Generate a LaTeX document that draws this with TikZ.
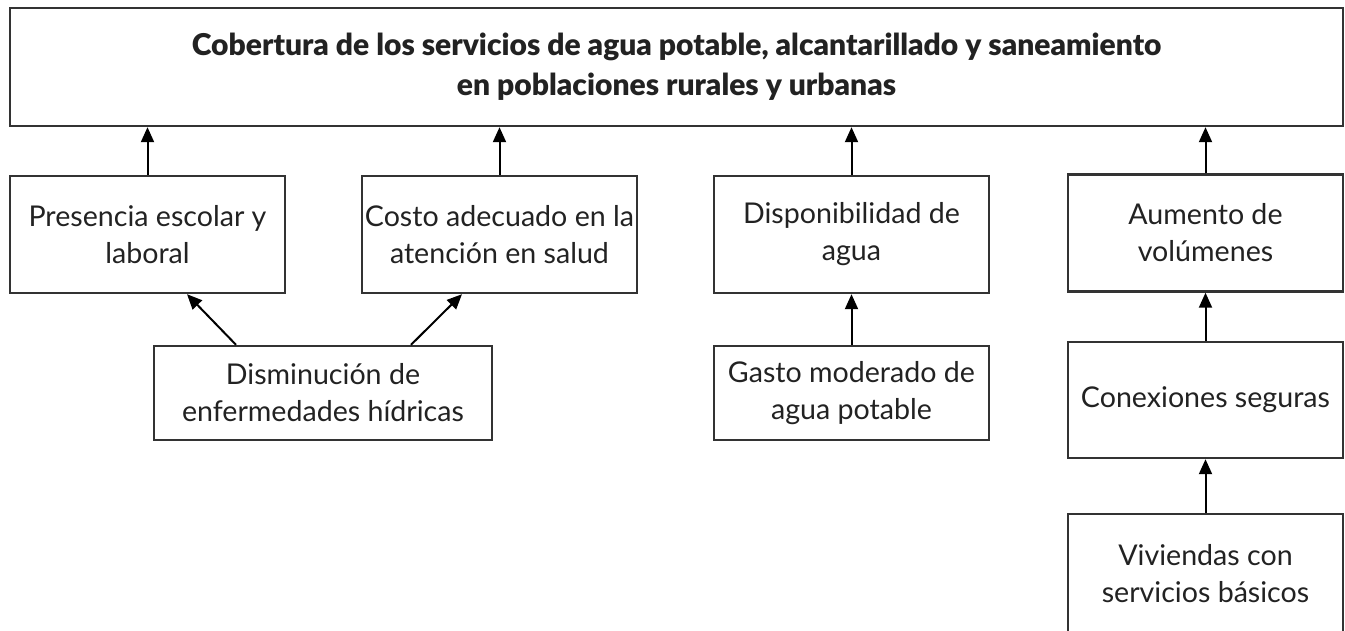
\documentclass[tikz,border=0pt]{standalone}
\usepackage{fontspec}
\setmainfont{Lato}
\newfontfamily\headfont{Lato Black}
\usetikzlibrary{arrows.meta}

\definecolor{boxline}{HTML}{333333}
\definecolor{ink}{HTML}{222222}

\begin{document}
\begin{tikzpicture}[x=1pt,y=-1pt,
    box/.style={draw=boxline,line width=2.4pt,minimum width=275pt,minimum height=117pt,
      align=center,text=ink,inner sep=0pt,font=\fontsize{28.6}{37}\selectfont},
    arr/.style={draw=black,line width=2pt,-{Triangle[width=13pt,length=15pt]}}]
  \useasboundingbox (0,0) rectangle (1345,631);

  % Goal
  \node[box,minimum width=1333pt,minimum height=118pt,font=\fontsize{30}{40}\headfont]
    (goal) at (676.5,67) {Cobertura de los servicios de agua potable, alcantarillado y saneamiento\\
    en poblaciones rurales y urbanas};

  % Upper row
  \node[box] (presencia) at (147.5,234.5) {Presencia escolar y\\laboral};
  \node[box] (costo) at (499.5,234.5) {Costo adecuado en la\\atenci\'on en salud};
  \node[box] (dispon) at (851.5,234.5) {Disponibilidad de\\agua};
  \node[box] (aumento) at (1205.5,233) {Aumento de\\vol\'umenes};

  % Lower rows
  \node[box,minimum width=338pt,minimum height=94pt] (disminu) at (323,393) {Disminuci\'on de\\enfermedades h\'idricas};
  \node[box,minimum height=94pt] (gasto) at (851.5,393) {Gasto moderado de\\agua potable};
  \node[box,minimum height=116pt] (conex) at (1205.5,400) {Conexiones seguras};
  \node[box,minimum height=120pt] (vivienda) at (1205.5,574) {Viviendas con\\servicios b\'asicos};

  % Arrows
  \draw[arr] (presencia.north) -- (presencia.north |- goal.south);
  \draw[arr] (costo.north) -- (costo.north |- goal.south);
  \draw[arr] (dispon.north) -- (dispon.north |- goal.south);
  \draw[arr] (aumento.north) -- (aumento.north |- goal.south);
  \draw[arr] ([xshift=-87pt]disminu.north) -- ([xshift=39.5pt]presencia.south);
  \draw[arr] ([xshift=88pt]disminu.north) -- ([xshift=-37.5pt]costo.south);
  \draw[arr] (gasto) -- (dispon);
  \draw[arr] (conex) -- (aumento);
  \draw[arr] (vivienda) -- (conex);
\end{tikzpicture}
\end{document}
